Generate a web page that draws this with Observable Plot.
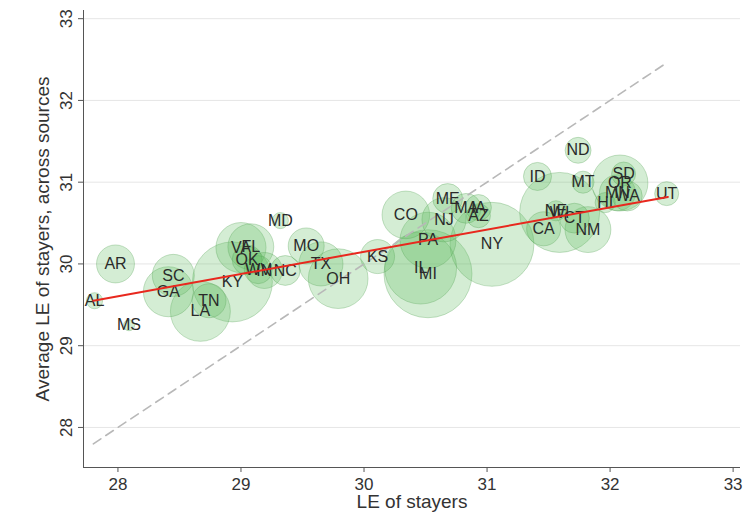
<!DOCTYPE html>
<html>
<head>
<meta charset="utf-8">
<script src="https://cdn.jsdelivr.net/npm/d3@7"></script>
<script src="https://cdn.jsdelivr.net/npm/@observablehq/plot@0.6"></script>
<style>
  html, body { margin: 0; padding: 0; background: #fff; }
</style>
</head>
<body>
<div id="chart"></div>
<script>
const states  = ["AL","MS","AR","SC","GA","TN","LA","KY","VA","FL","OK","WV","IN","NC","MD","MO","TX","OH","KS","CO","PA","IL","MI","ME","NJ","MA","IA","AZ","NY","ID","ND","MT","SD","OR","MN","HI","WA","UT","NE","WI","CT","NM","CA"];
const leStayers = [27.81,28.09,27.98,28.45,28.41,28.74,28.67,28.93,29.00,29.08,29.05,29.14,29.19,29.36,29.32,29.53,29.65,29.79,30.11,30.34,30.52,30.46,30.52,30.68,30.65,30.83,30.93,30.93,31.04,31.41,31.74,31.78,32.11,32.08,32.06,31.96,32.14,32.46,31.56,31.59,31.71,31.82,31.46];
const leAverage = [29.55,29.25,30.00,29.86,29.66,29.55,29.42,29.78,30.20,30.21,30.05,29.93,29.92,29.92,30.53,30.22,30.00,29.82,30.09,30.60,30.29,29.95,29.88,30.80,30.54,30.68,30.69,30.59,30.24,31.07,31.39,31.00,31.10,30.99,30.87,30.75,30.83,30.86,30.65,30.63,30.56,30.42,30.43];
const weights   = [3.2,1.5,17.8,21.8,30.9,14.3,44.4,79,31,26,11,9.7,16,11,3.2,16,24,44,14.3,28,38.7,64,95.6,11,24,11,8.3,7.1,87,9.7,8.3,6,7.1,38.7,16,5,11,7.1,5,79,11,26,14.3];

const fitX = [27.80, 32.47];
const fitY = [29.55, 30.82];
const diagX = [27.80, 32.47];
const diagY = [27.80, 32.47];

const xTicks = [28, 29, 30, 31, 32, 33];
const yTicks = [28, 29, 30, 31, 32, 33];

const data = states.map((s, i) => ({state: s, x: leStayers[i], y: leAverage[i], w: weights[i]}));
const fit = fitX.map((x, i) => ({x, y: fitY[i]}));
const diag = diagX.map((x, i) => ({x, y: diagY[i]}));

const xDom = [27.72, 33.06];
const yDom = [27.51, 33.10];

const chart = Plot.plot({
  width: 747,
  height: 531,
  marginLeft: 83,
  marginRight: 7,
  marginTop: 10,
  marginBottom: 64,
  style: {fontFamily: "'Liberation Sans', Arial, sans-serif", fontSize: "17px", color: "#333", background: "#fff"},
  x: {domain: xDom},
  y: {domain: yDom},
  r: {type: "sqrt", domain: [0, 100], range: [0, 45]},
  marks: [
    Plot.gridY(yTicks, {stroke: "#e6e6e6", strokeOpacity: 1, strokeWidth: 1}),
    Plot.dot(data, {x: "x", y: "y", r: "w", fill: "#66bd63", fillOpacity: 0.28, stroke: "#55a355", strokeOpacity: 0.32, strokeWidth: 1}),
    Plot.line(diag, {x: "x", y: "y", stroke: "#b8b8b8", strokeWidth: 1.6, strokeDasharray: "9,6"}),
    Plot.text(data, {x: "x", y: "y", text: "state", fontSize: 16, fill: "#2a2a2a"}),
    Plot.line(fit, {x: "x", y: "y", stroke: "#e8281e", strokeWidth: 2}),
    Plot.ruleX([xDom[0]], {stroke: "#555", strokeWidth: 1}),
    Plot.ruleY([yDom[0]], {stroke: "#555", strokeWidth: 1}),
    Plot.axisX({ticks: xTicks, tickSize: 5, tickPadding: 5, tickFormat: d3.format("d"), fontSize: 17, label: null, stroke: "#555"}),
    Plot.axisY({ticks: yTicks, tickSize: 5, tickPadding: 3, tickFormat: () => "", label: null, stroke: "#555"}),
    Plot.text(yTicks, {y: d => d, frameAnchor: "left", textAnchor: "middle", dx: -17, rotate: -90, text: d => String(d), fontSize: 17, fill: "#333"}),
    Plot.text(["Average LE of stayers, across sources"], {frameAnchor: "left", textAnchor: "middle", dx: -41, rotate: -90, fontSize: 19, fill: "#333"}),
    Plot.text(["LE of stayers"], {frameAnchor: "bottom", dy: 40, fontSize: 19, fill: "#333"})
  ]
});
document.getElementById("chart").appendChild(chart);
</script>
</body>
</html>
